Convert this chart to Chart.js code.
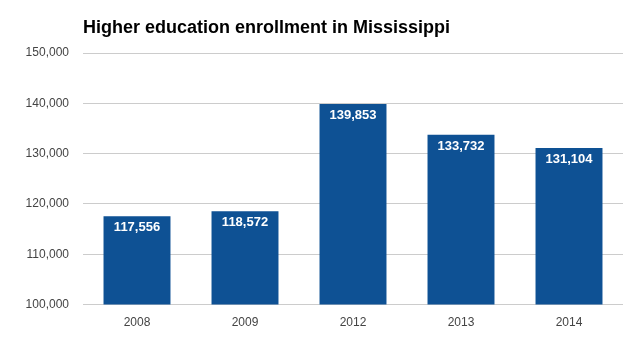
<!DOCTYPE html>
<html>
<head>
<meta charset="utf-8">
<script src="https://cdn.jsdelivr.net/npm/chart.js@4"></script>
<style>
  html, body { margin: 0; padding: 0; background: #fff; }
  #wrap { width: 643px; height: 342px; position: relative; }
</style>
</head>
<body>
<div id="wrap"><canvas id="enrollChart"></canvas></div>
<script>
const years = ['2008', '2009', '2012', '2013', '2014'];
const enrollment = [117556, 118572, 139853, 133732, 131104];
const chartTitle = 'Higher education enrollment in Mississippi';

const barColor = '#0e5194';
const fontFamily = 'Arial, "Liberation Sans", sans-serif';

// Title drawn at the left edge of the plot area
const titlePlugin = {
    id: 'leftTitle',
    afterDraw(chart) {
        const ctx = chart.ctx;
        ctx.save();
        ctx.font = 'bold 18px ' + fontFamily;
        ctx.fillStyle = '#000';
        ctx.textAlign = 'left';
        ctx.textBaseline = 'alphabetic';
        ctx.fillText(chartTitle, chart.chartArea.left, 33);
        ctx.restore();
    }
};

// White value labels inside the top of each bar
const barLabels = {
    id: 'barLabels',
    afterDatasetsDraw(chart) {
        const ctx = chart.ctx;
        const meta = chart.getDatasetMeta(0);
        ctx.save();
        ctx.font = 'bold 13px ' + fontFamily;
        ctx.fillStyle = '#fff';
        ctx.textAlign = 'center';
        ctx.textBaseline = 'top';
        meta.data.forEach((bar, i) => {
            ctx.fillText(enrollment[i].toLocaleString('en-US'), bar.x, bar.y + 5);
        });
        ctx.restore();
    }
};

new Chart(document.getElementById('enrollChart'), {
    type: 'bar',
    data: {
        labels: years,
        datasets: [{
            data: enrollment,
            backgroundColor: barColor,
            categoryPercentage: 0.62,
            barPercentage: 1
        }]
    },
    options: {
        responsive: true,
        maintainAspectRatio: false,
        animation: false,
        layout: { padding: { top: 53, right: 20, bottom: 1, left: 0 } },
        plugins: {
            legend: { display: false },
            tooltip: { enabled: false }
        },
        scales: {
            x: {
                grid: { display: false, drawTicks: false },
                border: { display: false },
                ticks: {
                    color: '#444',
                    padding: 11,
                    font: { family: fontFamily, size: 12 }
                }
            },
            y: {
                min: 100000,
                max: 150000,
                afterFit(scale) { scale.width = 83; },
                grid: { color: '#cccccc', drawTicks: false },
                border: { display: false },
                ticks: {
                    stepSize: 10000,
                    color: '#444',
                    padding: 14,
                    font: { family: fontFamily, size: 12 },
                    callback: v => v.toLocaleString('en-US')
                }
            }
        }
    },
    plugins: [titlePlugin, barLabels]
});
</script>
</body>
</html>
